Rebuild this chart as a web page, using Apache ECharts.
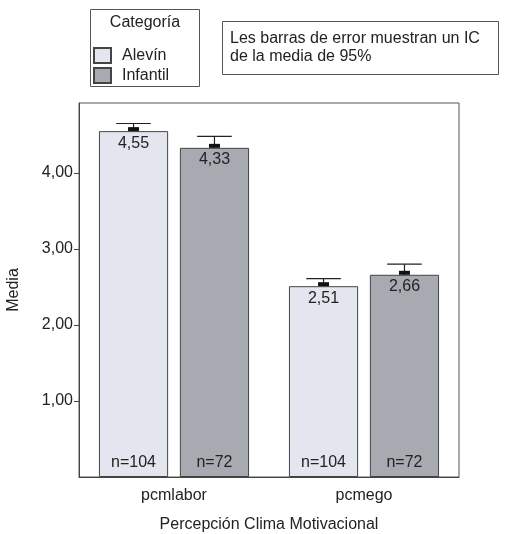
<!DOCTYPE html>
<html><head><meta charset="utf-8">
<script src="https://cdn.jsdelivr.net/npm/echarts@6/dist/echarts.min.js"></script>
<style>html,body{margin:0;padding:0;background:#fff}#c{width:507px;height:534px}</style>
</head><body><div id="c"></div>
<script>
var categories = ['pcmlabor', 'pcmego'];
var seriesNames = ['Alevín', 'Infantil'];
var alevinMeans = [4.55, 2.51];
var infantilMeans = [4.33, 2.66];
var alevinUpper = [4.65, 2.61];
var infantilUpper = [4.48, 2.80];
var alevinN = [104, 104];
var infantilN = [72, 72];
var yTicks = [1, 2, 3, 4];

var FONT = 'Liberation Sans';
var FS = 16;
var TXT = '#222';
var GAP_CAT = 0.21, GAP_BAR = 0.17;

function fmt(v) { return v.toFixed(2).replace('.', ','); }

function errSeries(means, uppers, ns, idx) {
  var data = categories.map(function (c, i) { return [i, means[i], uppers[i], ns[i]]; });
  return {
    type: 'custom', z: 10, silent: true,
    encode: { x: 0, y: [1, 2] },
    data: data,
    renderItem: function (params, api) {
      var i = api.value(0);
      var band = api.size([1, 0])[0];
      var barW = band * (1 - GAP_CAT) / (2 + GAP_BAR);
      var off = (barW + barW * GAP_BAR) / 2 * (idx === 0 ? -1 : 1);
      var pm = api.coord([i, api.value(1)]);
      var pu = api.coord([i, api.value(2)]);
      var p0 = api.coord([i, 0]);
      var cx = pm[0] + off;
      var capW = barW * 0.5;
      return {
        type: 'group',
        children: [
          { type: 'line', shape: { x1: cx, y1: pm[1], x2: cx, y2: pu[1] }, style: { stroke: '#222', lineWidth: 1.2 } },
          { type: 'line', shape: { x1: cx - capW / 2, y1: pu[1], x2: cx + capW / 2, y2: pu[1] }, style: { stroke: '#222', lineWidth: 1.2 } },
          { type: 'rect', shape: { x: cx - 5.5, y: pm[1] - 4, width: 11, height: 4 }, style: { fill: '#111' } },
          { type: 'text', x: cx, y: p0[1] - 14, style: { text: 'n=' + api.value(3), fill: TXT, font: FS + 'px ' + FONT, align: 'center', verticalAlign: 'middle' } }
        ]
      };
    }
  };
}

function barSeries(name, means, color) {
  return {
    name: name, type: 'bar', data: means,
    barCategoryGap: (GAP_CAT * 100) + '%', barGap: (GAP_BAR * 100) + '%',
    itemStyle: { color: color, borderColor: '#444', borderWidth: 1 },
    label: { show: true, position: 'insideTop', distance: 4, color: TXT, fontFamily: FONT, fontSize: FS,
      formatter: function (p) { return fmt(p.value); } }
  };
}

var chart = echarts.init(document.getElementById('c'), null, { renderer: 'canvas' });
chart.setOption({
  animation: false,
  backgroundColor: '#fff',
  textStyle: { fontFamily: FONT, color: TXT },
  grid: { left: 79, right: 48, top: 103, bottom: 57, show: true, borderColor: '#555', borderWidth: 1,
    backgroundColor: 'transparent', containLabel: false, outerBoundsMode: 'none' },
  legend: {
    orient: 'vertical', left: 88, top: 42, itemWidth: 17, itemHeight: 15, itemGap: 3, padding: 5,
    icon: 'rect', data: seriesNames,
    textStyle: { fontFamily: FONT, fontSize: FS, color: TXT, padding: [0, 0, 0, 6] }
  },
  graphic: [
    { type: 'rect', shape: { x: 90.5, y: 9.5, width: 109, height: 77 }, style: { fill: 'none', stroke: '#555', lineWidth: 1 } },
    { type: 'text', x: 145, y: 23, style: { text: 'Categoría', font: FS + 'px ' + FONT, fill: TXT, align: 'center', verticalAlign: 'middle' } },
    { type: 'rect', shape: { x: 222.5, y: 21.5, width: 276, height: 53 }, style: { fill: 'none', stroke: '#555', lineWidth: 1 } },
    { type: 'text', x: 230, y: 39, style: { text: 'Les barras de error muestran un IC', font: FS + 'px ' + FONT, fill: TXT, verticalAlign: 'middle' } },
    { type: 'text', x: 230, y: 57, style: { text: 'de la media de 95%', font: FS + 'px ' + FONT, fill: TXT, verticalAlign: 'middle' } }
  ],
  xAxis: {
    type: 'category', data: categories,
    name: 'Percepción Clima Motivacional', nameLocation: 'middle', nameGap: 40,
    nameTextStyle: { fontFamily: FONT, fontSize: FS, color: TXT },
    axisLine: { lineStyle: { color: '#444' } },
    axisTick: { alignWithLabel: true, length: 5, lineStyle: { color: '#444' } },
    axisLabel: { fontFamily: FONT, fontSize: FS, color: TXT, margin: 11 }
  },
  yAxis: {
    type: 'value', min: 0, max: 4.92, interval: 1,
    name: 'Media', nameLocation: 'middle', nameGap: 57, nameRotate: 90,
    nameTextStyle: { fontFamily: FONT, fontSize: FS, color: TXT },
    splitLine: { show: false },
    axisLine: { show: true, lineStyle: { color: '#444' } },
    axisTick: { show: true, length: 5, customValues: yTicks, lineStyle: { color: '#444' } },
    axisLabel: { fontFamily: FONT, fontSize: FS, color: TXT, margin: 6, customValues: yTicks, formatter: function (v) { return fmt(v); } }
  },
  series: [
    barSeries(seriesNames[0], alevinMeans, '#e3e6ee'),
    barSeries(seriesNames[1], infantilMeans, '#a8aab2'),
    errSeries(alevinMeans, alevinUpper, alevinN, 0),
    errSeries(infantilMeans, infantilUpper, infantilN, 1)
  ]
});
</script></body></html>
